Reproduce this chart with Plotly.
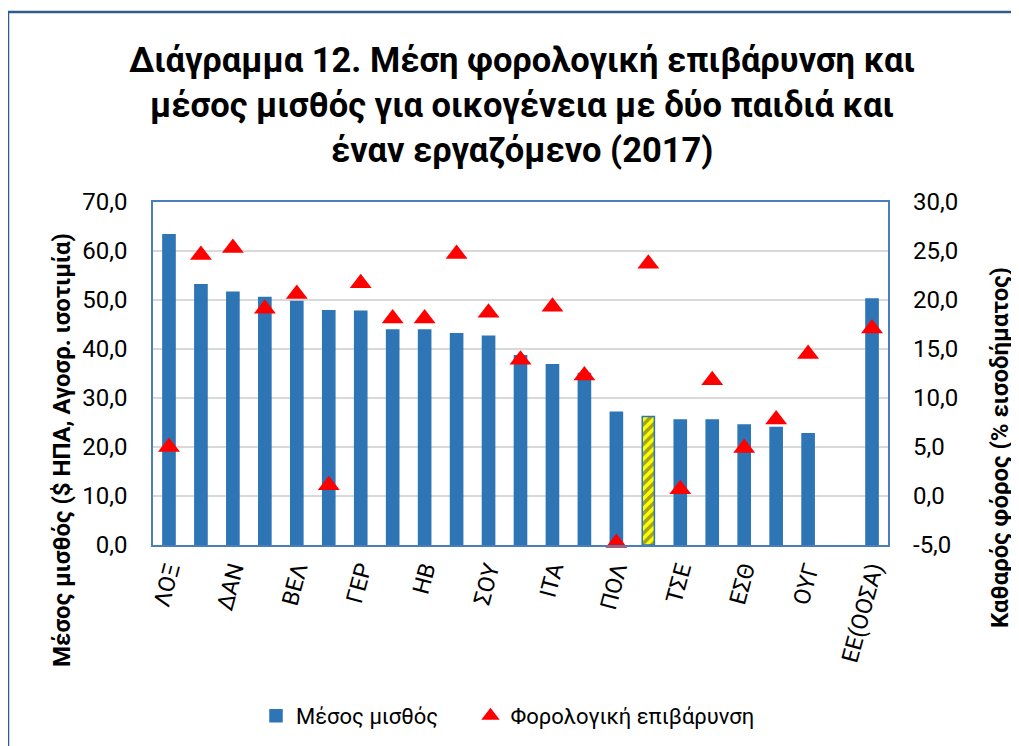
import plotly.graph_objects as go

categories = ["ΛΟΞ", "ΟΛΛ", "ΔΑΝ", "ΑΥΣ", "ΒΕΛ", "ΙΡΛ", "ΓΕΡ", "ΦΙΝ", "ΗΒ", "ΓΑΛ",
              "ΣΟΥ", "ΙΣΠ", "ΙΤΑ", "ΣΛΟ", "ΠΟΛ", "ΕΛΛ", "ΤΣΕ", "ΠΟΡ", "ΕΣΘ", "ΣΛΚ",
              "ΟΥΓ", "", "ΕΕ(ΟΟΣΑ)"]
avg_wage = [63.3, 53.1, 51.6, 50.5, 49.7, 47.8, 47.7, 43.9, 43.9, 43.1,
            42.6, 38.6, 36.8, 35.0, 27.1, 26.2, 25.5, 25.5, 24.5, 24.0,
            22.7, None, 50.2]
tax_burden = [5.0, 24.6, 25.3, 19.1, 20.6, 1.1, 21.7, 18.1, 18.1, 24.7,
              18.7, 13.9, 19.3, 12.3, -4.8, 23.7, 0.7, 11.8, 4.9, 7.8,
              14.5, None, 17.1]
highlight = "ΕΛΛ"

left_ticks = [0, 10, 20, 30, 40, 50, 60, 70]
right_ticks = [-5, 0, 5, 10, 15, 20, 25, 30]

title_lines = ["Διάγραμμα 12. Μέση φορολογική επιβάρυνση και",
               "μέσος μισθός για οικογένεια με δύο παιδιά και",
               "έναν εργαζόμενο (2017)"]

BLUE = "#2E75B6"
FONT = "Roboto, 'Open Sans', sans-serif"

OFF = 8  # the page body margin shifts the figure by this many pixels
W, H = 1019 - OFF, 746 - OFF
L, R, T, B = 153 - OFF, 888 - OFF, 202 - OFF, 545 - OFF  # plot area in figure pixels


def px(xp):  # page pixel -> paper x
    return (xp - OFF - L) / (R - L)


def py(yp):  # page pixel -> paper y
    return (B - (yp - OFF)) / (B - T)


x = list(range(len(categories)))
bar_colors = ["#FFFF00" if c == highlight else BLUE for c in categories]
bar_shapes = ["/" if c == highlight else "" for c in categories]

fig = go.Figure()
fig.add_trace(go.Bar(
    x=x, y=avg_wage, name="Μέσος μισθός" + "\u00a0" * 5,
    marker=dict(color=bar_colors, line=dict(color=BLUE, width=1.5),
                pattern=dict(shape=bar_shapes, fgcolor=BLUE, size=7, solidity=0.5)),
    yaxis="y",
))
fig.add_trace(go.Scatter(
    x=x, y=tax_burden, name="Φορολογική επιβάρυνση", mode="markers",
    marker=dict(symbol="triangle-up", color="#FF0000", size=19, line=dict(width=0)),
    yaxis="y2", cliponaxis=False,
))

tickvals = x[::2]
ticktext = categories[::2]

annotations = []
for line, yc in zip(title_lines, [60, 105, 150]):
    annotations.append(dict(text="<b>" + line + "</b>", xref="paper", yref="paper",
                            x=px(522), y=py(yc), xanchor="center", yanchor="middle",
                            showarrow=False, font=dict(size=34.5)))
annotations += [
    dict(text="<b>Μέσος μισθός ($ ΗΠΑ, Αγοσρ. ισοτιμία)</b>", textangle=-90,
         xref="paper", yref="paper", x=px(62), y=py(450),
         xanchor="center", yanchor="middle", showarrow=False, font=dict(size=24)),
    dict(text="<b>Καθαρός φόρος (% εισοδήματος)</b>", textangle=-90,
         xref="paper", yref="paper", x=px(1000), y=py(447),
         xanchor="center", yanchor="middle", showarrow=False, font=dict(size=24)),
]

fig.update_layout(
    width=W, height=H,
    margin=dict(l=L, r=W - R, t=T, b=H - B, autoexpand=False),
    paper_bgcolor="white", plot_bgcolor="white",
    font=dict(family=FONT, color="#000000", size=22),
    bargap=0.62,
    showlegend=True,
    legend=dict(orientation="h", x=px(256), xanchor="left", y=py(716), yanchor="middle",
                font=dict(size=22), itemwidth=30, traceorder="normal"),
    xaxis=dict(range=[-0.5, len(categories) - 0.5], tickvals=tickvals, ticktext=ticktext,
               tickangle=-75, tickfont=dict(size=23), showgrid=False,
               showline=True, linecolor="#4A7EBB", linewidth=1.5, mirror=True,
               ticks="", zeroline=False, automargin=False),
    yaxis=dict(range=[0, 70], tickvals=left_ticks,
               ticktext=[f"{v:.1f}".replace(".", ",") for v in left_ticks],
               showgrid=True, gridcolor="#D9D9D9", gridwidth=1.5,
               showline=True, linecolor="#4A7EBB", linewidth=1.5, mirror=True,
               ticks="", zeroline=False, tickfont=dict(size=24), ticklabelstandoff=19,
               automargin=False),
    yaxis2=dict(range=[-5, 30], tickvals=right_ticks,
                ticktext=[f"{v:.1f}".replace(".", ",") for v in right_ticks],
                overlaying="y", side="right", showgrid=False, zeroline=False,
                ticks="", tickfont=dict(size=24), ticklabelstandoff=24, automargin=False),
    annotations=annotations,
    shapes=[dict(type="rect", xref="paper", yref="paper",
                 x0=px(8), x1=1.5, y0=-1.0, y1=py(12),
                 line=dict(color="#2F5C8A", width=2.5), fillcolor="rgba(0,0,0,0)",
                 layer="below")],
)

fig.write_html("out.html")
